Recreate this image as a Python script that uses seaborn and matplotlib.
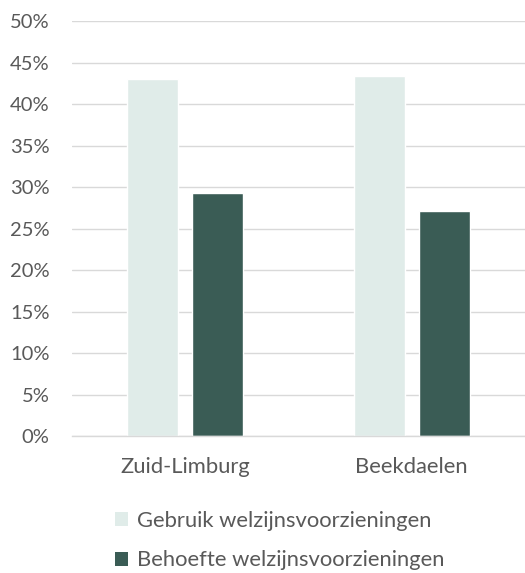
import matplotlib.pyplot as plt
import matplotlib.ticker as mticker
from matplotlib.patches import Patch
import seaborn as sns
import pandas as pd

regios = ["Zuid-Limburg", "Beekdaelen"]
reeksen = ["Gebruik welzijnsvoorzieningen", "Behoefte welzijnsvoorzieningen"]
gebruik = [0.430, 0.434]
behoefte = [0.293, 0.271]
kleuren = ["#E0ECE9", "#3A5C55"]

df = pd.DataFrame({
    "regio": regios * 2,
    "reeks": [reeksen[0]] * 2 + [reeksen[1]] * 2,
    "waarde": gebruik + behoefte,
})

sns.set_style("white")
plt.rcParams["font.family"] = ["Lato", "DejaVu Sans"]
tekst = "#595959"
fs = 14.5
fs_groot = 15.8

fig = plt.figure(figsize=(5.25, 5.73), dpi=100)
ax = fig.add_axes([0.137, 0.239, 0.863, 0.724])

sns.barplot(data=df, x="regio", y="waarde", hue="reeks", palette=kleuren,
            width=0.574, gap=0.216, ax=ax, legend=False, saturation=1)

ax.set_ylim(0, 0.5)
ax.set_xlim(-0.5, 1.5)
ax.yaxis.set_major_locator(mticker.MultipleLocator(0.05))
ax.yaxis.set_major_formatter(mticker.PercentFormatter(1.0, decimals=0))
ax.grid(axis="y", color="#D9D9D9", linewidth=1)
ax.set_axisbelow(True)
for s in ["top", "right", "left"]:
    ax.spines[s].set_visible(False)
ax.spines["bottom"].set_color("#D9D9D9")
ax.spines["bottom"].set_linewidth(1)
ax.tick_params(axis="y", length=0, pad=16, labelsize=fs, labelcolor=tekst)
ax.tick_params(axis="x", length=0, pad=15, labelsize=fs_groot, labelcolor=tekst)
ax.set_xlabel("")
ax.set_ylabel("")

handles = [Patch(facecolor=c, edgecolor="none") for c in kleuren]
fig.legend(handles, reeksen, loc="upper left", bbox_to_anchor=(0.219, 0.109),
           frameon=False, fontsize=fs_groot, labelcolor=tekst, handlelength=0.6,
           handleheight=0.6, handletextpad=0.4, labelspacing=0.9,
           borderaxespad=0, borderpad=0)

fig.savefig("out.png", dpi=100)
